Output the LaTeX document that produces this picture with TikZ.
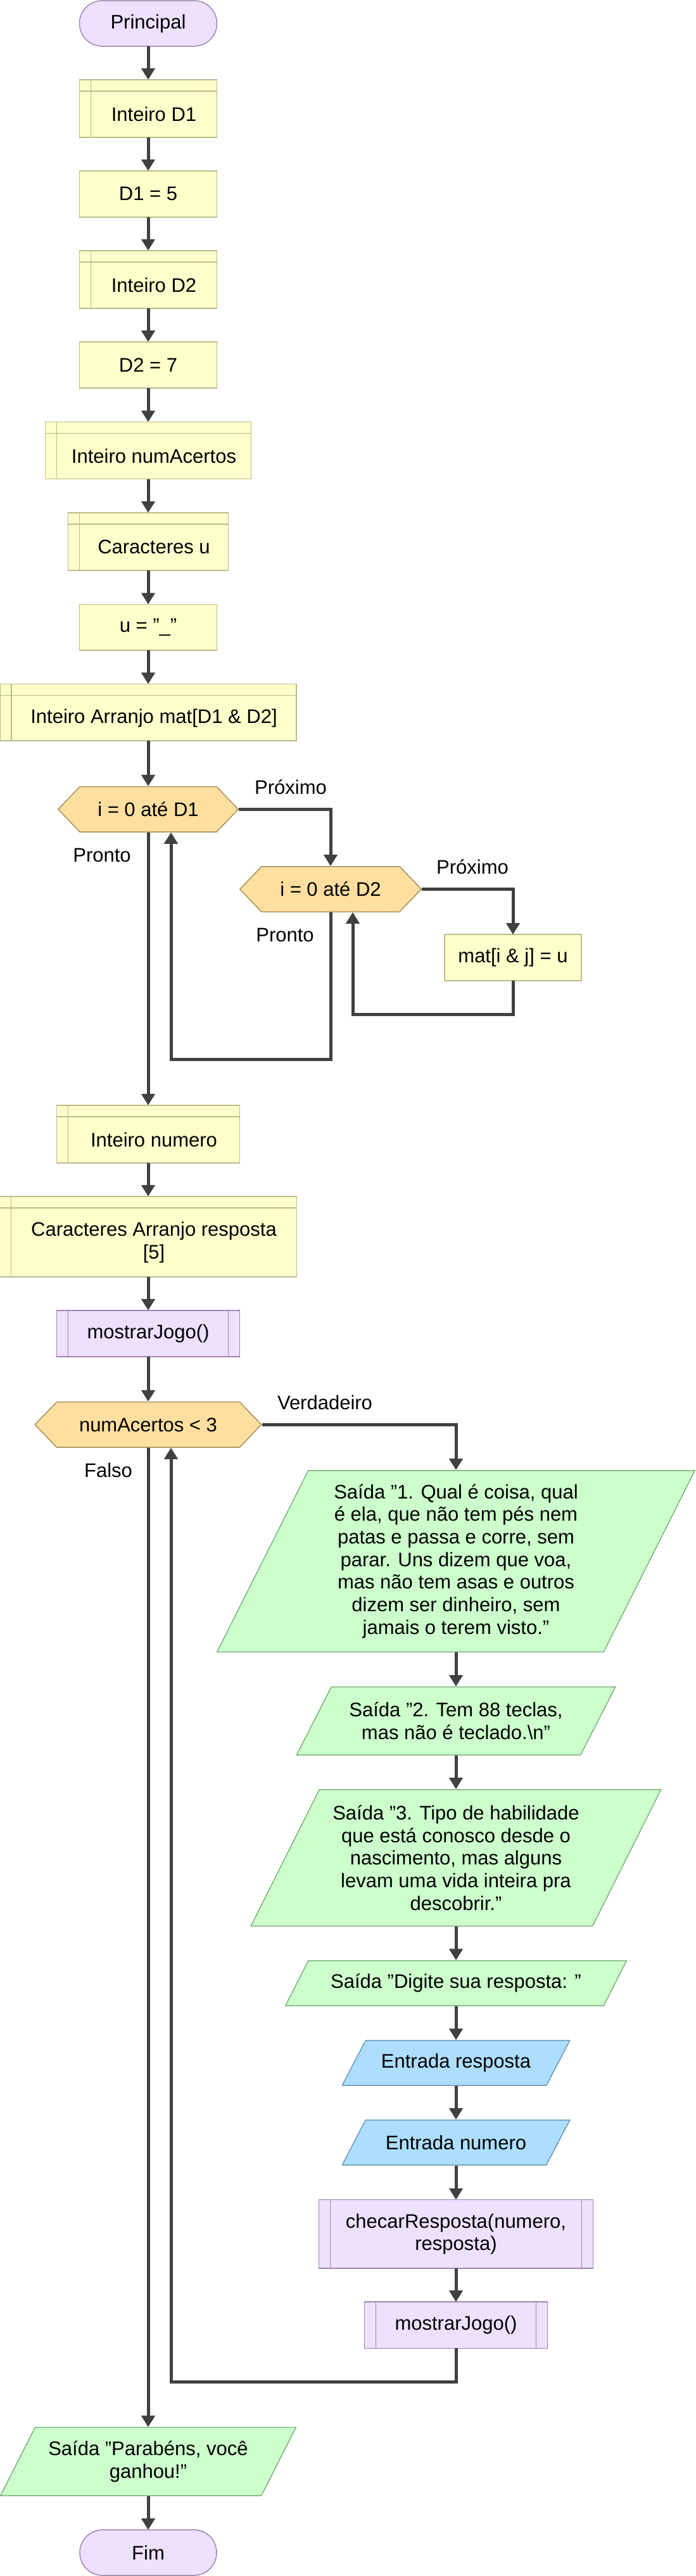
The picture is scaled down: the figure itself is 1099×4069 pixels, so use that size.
\documentclass[tikz,border=0pt]{standalone}
\usepackage{fontspec}
\setmainfont{Liberation Sans}
\usetikzlibrary{arrows.meta}
\definecolor{pfill}{HTML}{EEE0FF}
\definecolor{pline}{HTML}{A086B0}
\definecolor{yfill}{HTML}{FFFFCC}
\definecolor{yline}{HTML}{BBBB8C}
\definecolor{hfill}{HTML}{FFDFA0}
\definecolor{hline}{HTML}{A8905C}
\definecolor{gfill}{HTML}{CCFFCC}
\definecolor{gline}{HTML}{80B080}
\definecolor{bfill}{HTML}{ADDEFF}
\definecolor{bline}{HTML}{6C99B8}
\definecolor{arrowc}{HTML}{404040}
\tikzset{
  txt/.style={inner sep=0pt, outer sep=0pt, align=center, font=\fontsize{31}{35.7}\selectfont, text=black},
  sz/.style 2 args={minimum width=#1pt, minimum height=#2pt},
  term/.style={txt, draw=pline, fill=pfill, line width=1.5pt, rounded corners=35.9pt},
  rectbox/.style={txt, draw=yline, fill=yfill, line width=1.5pt},
  declbox/.style={rectbox, path picture={
     \draw[yline, line width=1.5pt]
       ([xshift=18pt]path picture bounding box.north west) -- ([xshift=18pt]path picture bounding box.south west)
       ([yshift=-18pt]path picture bounding box.north west) -- ([yshift=-18pt]path picture bounding box.north east);}},
  subr/.style={txt, draw=pline, fill=pfill, line width=1.5pt, path picture={
     \draw[pline, line width=1.5pt]
       ([xshift=18pt]path picture bounding box.north west) -- ([xshift=18pt]path picture bounding box.south west)
       ([xshift=-18pt]path picture bounding box.north east) -- ([xshift=-18pt]path picture bounding box.south east);}},
  hexbox/.style={txt, path picture={
     \filldraw[fill=hfill, draw=hline, line width=1.5pt]
       ([xshift=0.75pt]path picture bounding box.west)
       -- ([shift={(35pt,-0.75pt)}]path picture bounding box.north west)
       -- ([shift={(-35pt,-0.75pt)}]path picture bounding box.north east)
       -- ([xshift=-0.75pt]path picture bounding box.east)
       -- ([shift={(-35pt,0.75pt)}]path picture bounding box.south east)
       -- ([shift={(35pt,0.75pt)}]path picture bounding box.south west) -- cycle;}},
  para/.style n args={3}{txt, path picture={
     \filldraw[fill=#1, draw=#2, line width=1.5pt]
       ([shift={(0.75pt,0.75pt)}]path picture bounding box.south west)
       -- ([shift={(#3pt+0.75pt,-0.75pt)}]path picture bounding box.north west)
       -- ([shift={(-0.75pt,-0.75pt)}]path picture bounding box.north east)
       -- ([shift={(-#3pt-0.75pt,0.75pt)}]path picture bounding box.south east) -- cycle;}},
  outp/.style={para={gfill}{gline}{#1}},
  inp/.style={para={bfill}{bline}{#1}},
  conn/.style={draw=arrowc, line width=5pt, -{Triangle[width=21pt,length=18pt]}},
  lbl/.style={txt},
}
\begin{document}
\begin{tikzpicture}[x=1pt,y=-1pt]
\useasboundingbox (0,0) rectangle (1099,4069);

% main column
\node[term, sz={217}{72}] (ini) at (234,37) {Principal};
\node[declbox, sz={217}{91}] (d1) at (234,171.4) {};
\node[txt] (d1t) at ([shift={(9pt,-9pt)}]d1.center) {Inteiro D1};
\node[rectbox, sz={217}{73}] (d1v) at (234,306.3) {D1 = 5};
\node[declbox, sz={217}{91}] (d2) at (234,441.3) {};
\node[txt] (d2t) at ([shift={(9pt,-9pt)}]d2.center) {Inteiro D2};
\node[rectbox, sz={217}{73}] (d2v) at (234,576.5) {D2 = 7};
\node[declbox, sz={325}{90}] (na) at (234,711.5) {};
\node[txt] (nat) at ([shift={(9pt,-9pt)}]na.center) {Inteiro numAcertos};
\node[declbox, sz={253}{91}] (cu) at (234,855.3) {};
\node[txt] (cut) at ([shift={(9pt,-9pt)}]cu.center) {Caracteres u};
\node[rectbox, sz={217}{72.5}] (uv) at (234,990.8) {u = "\_"};
\node[declbox, sz={468}{89.5}] (mat) at (234,1125.2) {};
\node[txt] (matt) at ([shift={(9pt,-9pt)}]mat.center) {Inteiro Arranjo mat[D1 \& D2]};

% nested loops
\node[hexbox, sz={286}{73}] (h1) at (234,1278.3) {i = 0 até D1};
\node[hexbox, sz={288}{73}] (h2) at (522,1404.5) {i = 0 até D2};
\node[rectbox, sz={216}{73}] (mij) at (810,1512.5) {mat[i \& j] = u};

\node[declbox, sz={289}{91}] (num) at (234,1791.3) {};
\node[txt] (numt) at ([shift={(9pt,-9pt)}]num.center) {Inteiro numero};
\node[declbox, sz={469}{127}] (resp) at (234,1953.3) {};
\node[txt] (respt) at ([shift={(9pt,-9pt)}]resp.center) {Caracteres Arranjo resposta\\{}[5]};
\node[subr, sz={289}{73}] (mj1) at (234,2106.3) {mostrarJogo()};
\node[hexbox, sz={359}{73}] (h3) at (234,2250.3) {numAcertos < 3};

% right column
\node[outp=144, sz={756}{288}] (s1) at (720,2466) {Saída "1. Qual é coisa, qual\\é ela, que não tem pés nem\\patas e passa e corre, sem\\parar. Uns dizem que voa,\\mas não tem asas e outros\\dizem ser dinheiro, sem\\jamais o terem visto."};
\node[outp=55, sz={505}{109}] (s2) at (720,2718.3) {Saída "2. Tem 88 teclas,\\mas não é teclado.\textbackslash n"};
\node[outp=108, sz={649}{217}] (s3) at (720,2934.5) {Saída "3. Tipo de habilidade\\que está conosco desde o\\nascimento, mas alguns\\levam uma vida inteira pra\\descobrir."};
\node[outp=36, sz={540}{72.5}] (s4) at (720,3132.6) {Saída "Digite sua resposta: "};
\node[inp=37, sz={361}{72.5}] (e1) at (720,3258.6) {Entrada resposta};
\node[inp=37, sz={361}{72.5}] (e2) at (720,3384.3) {Entrada numero};
\node[subr, sz={433}{108.5}] (chk) at (720,3528.8) {checarResposta(numero,\\resposta)};
\node[subr, sz={289}{73.5}] (mj2) at (720,3672.7) {mostrarJogo()};

% end
\node[outp=54.5, sz={468}{109}] (par) at (234,3888.2) {Saída "Parabéns, você\\ganhou!"};
\node[term, sz={216}{72}] (fim) at (234,4032) {Fim};

% labels
\node[lbl] (lp1) at (459,1243) {Próximo};
\node[lbl] (lp2) at (746,1369) {Próximo};
\node[lbl] (lr1) at (161,1351) {Pronto};
\node[lbl] (lr2) at (450,1477) {Pronto};
\node[lbl] (lv) at (513,2215) {Verdadeiro};
\node[lbl] (lf) at (171,2322) {Falso};

% connectors
\draw[conn] (ini) -- (d1);
\draw[conn] (d1) -- (d1v);
\draw[conn] (d1v) -- (d2);
\draw[conn] (d2) -- (d2v);
\draw[conn] (d2v) -- (na);
\draw[conn] (na) -- (cu);
\draw[conn] (cu) -- (uv);
\draw[conn] (uv) -- (mat);
\draw[conn] (mat) -- (h1);
\draw[conn] (h1.east) -| (h2.north);
\draw[conn] (h2.east) -| (mij.north);
\draw[conn] (mij.south) -- ++(0,53) -| ([xshift=35pt]h2.south);
\draw[conn] (h2.south) -- ++(0,232.5) -| ([xshift=36pt]h1.south);
\draw[conn] (h1.south) -- (num.north);
\draw[conn] (num) -- (resp);
\draw[conn] (resp) -- (mj1);
\draw[conn] (mj1) -- (h3);
\draw[conn] (h3.east) -| (s1.north);
\draw[conn] (s1) -- (s2);
\draw[conn] (s2) -- (s3);
\draw[conn] (s3) -- (s4);
\draw[conn] (s4) -- (e1);
\draw[conn] (e1) -- (e2);
\draw[conn] (e2) -- (chk);
\draw[conn] (chk) -- (mj2);
\draw[conn] (mj2.south) -- ++(0,52.6) -| ([xshift=36pt]h3.south);
\draw[conn] (h3.south) -- (par.north);
\draw[conn] (par) -- (fim);
\end{tikzpicture}
\end{document}
